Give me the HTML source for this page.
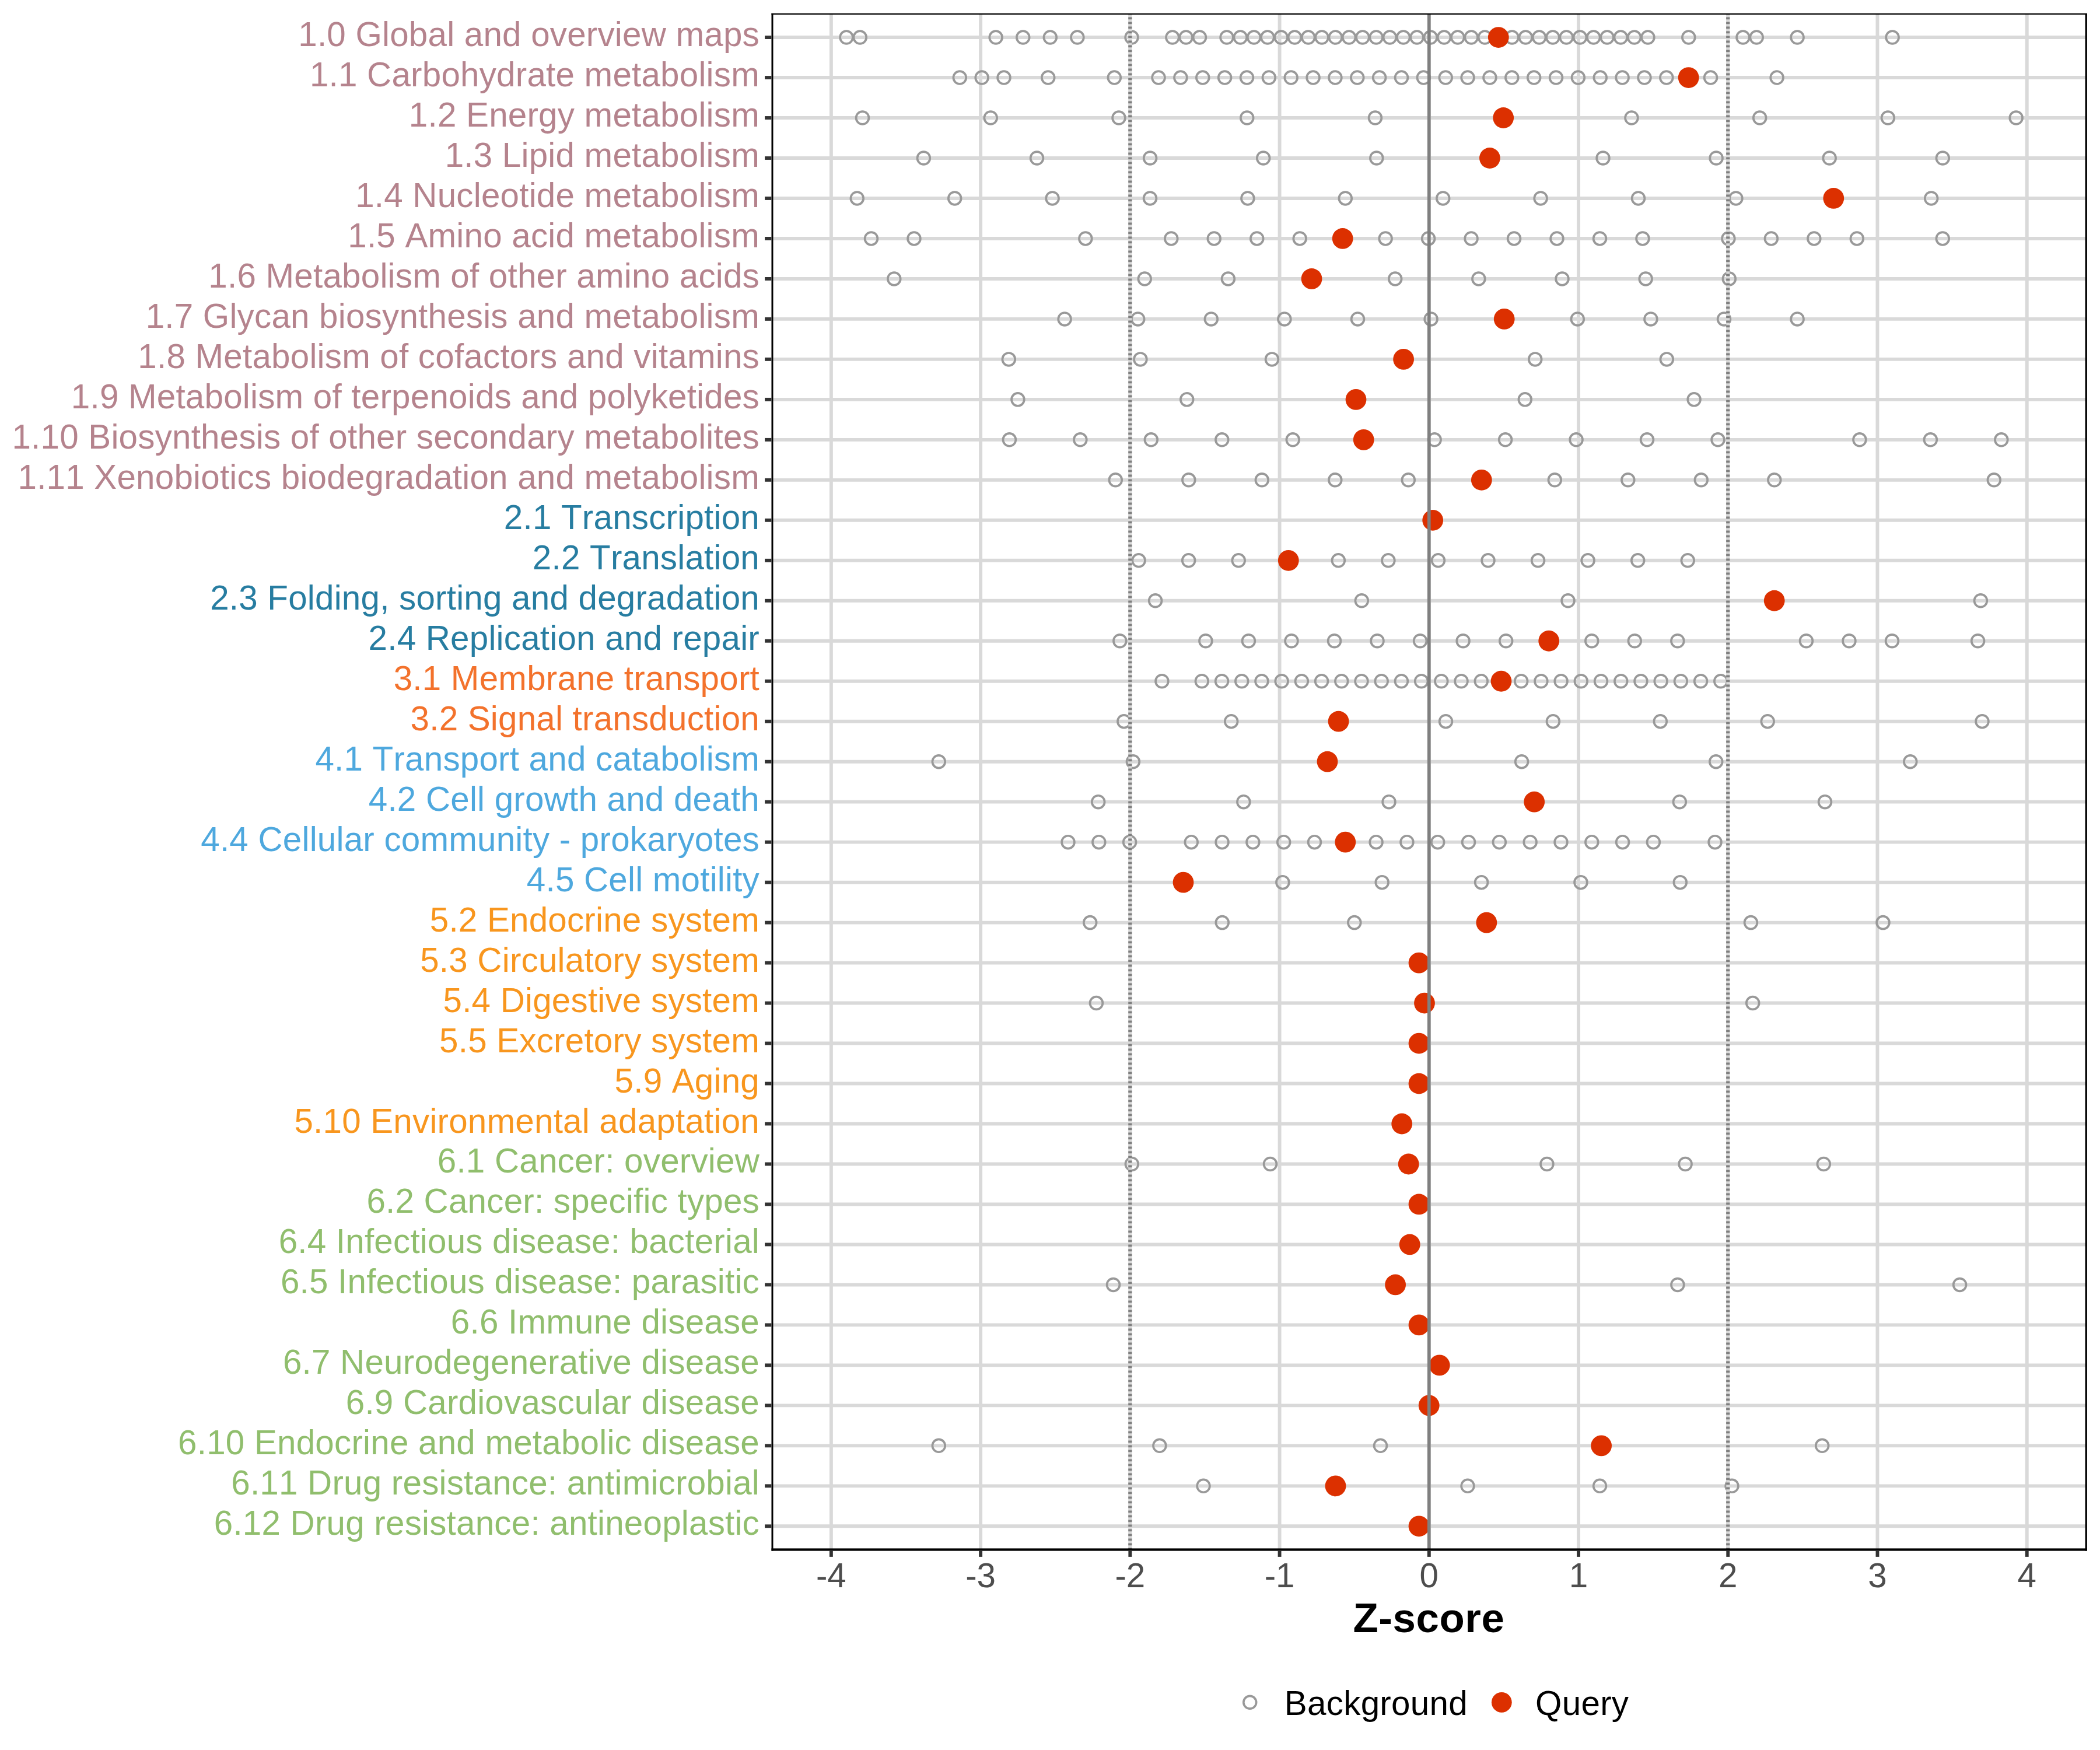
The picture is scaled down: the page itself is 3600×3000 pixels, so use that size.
<!DOCTYPE html>
<html><head><meta charset="utf-8"><title>Z-score plot</title>
<style>
html,body{margin:0;padding:0;background:#fff;overflow:hidden;width:3600px;height:3000px;}
svg{display:block;}
text{font-family:"Liberation Sans",Arial,Helvetica,sans-serif;font-kerning:none;font-feature-settings:"kern" 0,"liga" 0;}
</style></head><body>
<svg width="3600" height="3000" viewBox="0 0 3600 3000">
<rect x="0" y="0" width="3600" height="3000" fill="#ffffff"/>
<g stroke="#D9D9D9" stroke-width="5.9" fill="none">
<line x1="1324" y1="64.05" x2="3576.3" y2="64.05"/><line x1="1324" y1="133.03" x2="3576.3" y2="133.03"/><line x1="1324" y1="202.01" x2="3576.3" y2="202.01"/><line x1="1324" y1="270.99" x2="3576.3" y2="270.99"/><line x1="1324" y1="339.97" x2="3576.3" y2="339.97"/><line x1="1324" y1="408.95" x2="3576.3" y2="408.95"/><line x1="1324" y1="477.93" x2="3576.3" y2="477.93"/><line x1="1324" y1="546.91" x2="3576.3" y2="546.91"/><line x1="1324" y1="615.89" x2="3576.3" y2="615.89"/><line x1="1324" y1="684.87" x2="3576.3" y2="684.87"/><line x1="1324" y1="753.85" x2="3576.3" y2="753.85"/><line x1="1324" y1="822.83" x2="3576.3" y2="822.83"/><line x1="1324" y1="891.81" x2="3576.3" y2="891.81"/><line x1="1324" y1="960.79" x2="3576.3" y2="960.79"/><line x1="1324" y1="1029.77" x2="3576.3" y2="1029.77"/><line x1="1324" y1="1098.75" x2="3576.3" y2="1098.75"/><line x1="1324" y1="1167.73" x2="3576.3" y2="1167.73"/><line x1="1324" y1="1236.71" x2="3576.3" y2="1236.71"/><line x1="1324" y1="1305.69" x2="3576.3" y2="1305.69"/><line x1="1324" y1="1374.67" x2="3576.3" y2="1374.67"/><line x1="1324" y1="1443.65" x2="3576.3" y2="1443.65"/><line x1="1324" y1="1512.63" x2="3576.3" y2="1512.63"/><line x1="1324" y1="1581.61" x2="3576.3" y2="1581.61"/><line x1="1324" y1="1650.59" x2="3576.3" y2="1650.59"/><line x1="1324" y1="1719.57" x2="3576.3" y2="1719.57"/><line x1="1324" y1="1788.55" x2="3576.3" y2="1788.55"/><line x1="1324" y1="1857.53" x2="3576.3" y2="1857.53"/><line x1="1324" y1="1926.51" x2="3576.3" y2="1926.51"/><line x1="1324" y1="1995.49" x2="3576.3" y2="1995.49"/><line x1="1324" y1="2064.47" x2="3576.3" y2="2064.47"/><line x1="1324" y1="2133.45" x2="3576.3" y2="2133.45"/><line x1="1324" y1="2202.43" x2="3576.3" y2="2202.43"/><line x1="1324" y1="2271.41" x2="3576.3" y2="2271.41"/><line x1="1324" y1="2340.39" x2="3576.3" y2="2340.39"/><line x1="1324" y1="2409.37" x2="3576.3" y2="2409.37"/><line x1="1324" y1="2478.35" x2="3576.3" y2="2478.35"/><line x1="1324" y1="2547.33" x2="3576.3" y2="2547.33"/><line x1="1324" y1="2616.31" x2="3576.3" y2="2616.31"/>
<line x1="1424.88" y1="24" x2="1424.88" y2="2656.5"/><line x1="1681.11" y1="24" x2="1681.11" y2="2656.5"/><line x1="1937.34" y1="24" x2="1937.34" y2="2656.5"/><line x1="2193.57" y1="24" x2="2193.57" y2="2656.5"/><line x1="2449.8" y1="24" x2="2449.8" y2="2656.5"/><line x1="2706.03" y1="24" x2="2706.03" y2="2656.5"/><line x1="2962.26" y1="24" x2="2962.26" y2="2656.5"/><line x1="3218.49" y1="24" x2="3218.49" y2="2656.5"/><line x1="3474.72" y1="24" x2="3474.72" y2="2656.5"/>
</g>
<g fill="none" stroke="#999999" stroke-width="3.7">
<circle cx="1451" cy="64.05" r="10.9"/><circle cx="1474.29" cy="64.05" r="10.9"/><circle cx="1707.16" cy="64.05" r="10.9"/><circle cx="1753.73" cy="64.05" r="10.9"/><circle cx="1800.31" cy="64.05" r="10.9"/><circle cx="1846.88" cy="64.05" r="10.9"/><circle cx="1940.03" cy="64.05" r="10.9"/><circle cx="2009.89" cy="64.05" r="10.9"/><circle cx="2033.17" cy="64.05" r="10.9"/><circle cx="2056.46" cy="64.05" r="10.9"/><circle cx="2103.04" cy="64.05" r="10.9"/><circle cx="2126.32" cy="64.05" r="10.9"/><circle cx="2149.61" cy="64.05" r="10.9"/><circle cx="2172.9" cy="64.05" r="10.9"/><circle cx="2196.18" cy="64.05" r="10.9"/><circle cx="2219.47" cy="64.05" r="10.9"/><circle cx="2242.76" cy="64.05" r="10.9"/><circle cx="2266.05" cy="64.05" r="10.9"/><circle cx="2289.33" cy="64.05" r="10.9"/><circle cx="2312.62" cy="64.05" r="10.9"/><circle cx="2335.91" cy="64.05" r="10.9"/><circle cx="2359.19" cy="64.05" r="10.9"/><circle cx="2382.48" cy="64.05" r="10.9"/><circle cx="2405.77" cy="64.05" r="10.9"/><circle cx="2429.05" cy="64.05" r="10.9"/><circle cx="2452.34" cy="64.05" r="10.9"/><circle cx="2475.63" cy="64.05" r="10.9"/><circle cx="2498.91" cy="64.05" r="10.9"/><circle cx="2522.2" cy="64.05" r="10.9"/><circle cx="2545.49" cy="64.05" r="10.9"/><circle cx="2568.78" cy="64.05" r="10.9"/><circle cx="2592.06" cy="64.05" r="10.9"/><circle cx="2615.35" cy="64.05" r="10.9"/><circle cx="2638.64" cy="64.05" r="10.9"/><circle cx="2661.92" cy="64.05" r="10.9"/><circle cx="2685.21" cy="64.05" r="10.9"/><circle cx="2708.5" cy="64.05" r="10.9"/><circle cx="2731.78" cy="64.05" r="10.9"/><circle cx="2755.07" cy="64.05" r="10.9"/><circle cx="2778.36" cy="64.05" r="10.9"/><circle cx="2801.65" cy="64.05" r="10.9"/><circle cx="2824.93" cy="64.05" r="10.9"/><circle cx="2894.79" cy="64.05" r="10.9"/><circle cx="2987.94" cy="64.05" r="10.9"/><circle cx="3011.23" cy="64.05" r="10.9"/><circle cx="3081.09" cy="64.05" r="10.9"/><circle cx="3244.1" cy="64.05" r="10.9"/>
<circle cx="1645.3" cy="133.03" r="10.9"/><circle cx="1683.16" cy="133.03" r="10.9"/><circle cx="1721.02" cy="133.03" r="10.9"/><circle cx="1796.74" cy="133.03" r="10.9"/><circle cx="1910.32" cy="133.03" r="10.9"/><circle cx="1986.04" cy="133.03" r="10.9"/><circle cx="2023.9" cy="133.03" r="10.9"/><circle cx="2061.76" cy="133.03" r="10.9"/><circle cx="2099.62" cy="133.03" r="10.9"/><circle cx="2137.48" cy="133.03" r="10.9"/><circle cx="2175.34" cy="133.03" r="10.9"/><circle cx="2213.2" cy="133.03" r="10.9"/><circle cx="2251.06" cy="133.03" r="10.9"/><circle cx="2288.92" cy="133.03" r="10.9"/><circle cx="2326.78" cy="133.03" r="10.9"/><circle cx="2364.64" cy="133.03" r="10.9"/><circle cx="2402.5" cy="133.03" r="10.9"/><circle cx="2440.36" cy="133.03" r="10.9"/><circle cx="2478.22" cy="133.03" r="10.9"/><circle cx="2516.08" cy="133.03" r="10.9"/><circle cx="2553.94" cy="133.03" r="10.9"/><circle cx="2591.8" cy="133.03" r="10.9"/><circle cx="2629.66" cy="133.03" r="10.9"/><circle cx="2667.52" cy="133.03" r="10.9"/><circle cx="2705.38" cy="133.03" r="10.9"/><circle cx="2743.24" cy="133.03" r="10.9"/><circle cx="2781.1" cy="133.03" r="10.9"/><circle cx="2818.96" cy="133.03" r="10.9"/><circle cx="2856.82" cy="133.03" r="10.9"/><circle cx="2894.68" cy="133.03" r="10.9"/><circle cx="2932.54" cy="133.03" r="10.9"/><circle cx="3046.12" cy="133.03" r="10.9"/>
<circle cx="1478.5" cy="202.01" r="10.9"/><circle cx="1698.24" cy="202.01" r="10.9"/><circle cx="1917.98" cy="202.01" r="10.9"/><circle cx="2137.72" cy="202.01" r="10.9"/><circle cx="2357.46" cy="202.01" r="10.9"/><circle cx="2796.94" cy="202.01" r="10.9"/><circle cx="3016.68" cy="202.01" r="10.9"/><circle cx="3236.42" cy="202.01" r="10.9"/><circle cx="3456.16" cy="202.01" r="10.9"/>
<circle cx="1583.4" cy="270.99" r="10.9"/><circle cx="1777.5" cy="270.99" r="10.9"/><circle cx="1971.6" cy="270.99" r="10.9"/><circle cx="2165.7" cy="270.99" r="10.9"/><circle cx="2359.8" cy="270.99" r="10.9"/><circle cx="2748" cy="270.99" r="10.9"/><circle cx="2942.1" cy="270.99" r="10.9"/><circle cx="3136.2" cy="270.99" r="10.9"/><circle cx="3330.3" cy="270.99" r="10.9"/>
<circle cx="1469.3" cy="339.97" r="10.9"/><circle cx="1636.7" cy="339.97" r="10.9"/><circle cx="1804.1" cy="339.97" r="10.9"/><circle cx="1971.5" cy="339.97" r="10.9"/><circle cx="2138.9" cy="339.97" r="10.9"/><circle cx="2306.3" cy="339.97" r="10.9"/><circle cx="2473.7" cy="339.97" r="10.9"/><circle cx="2641.1" cy="339.97" r="10.9"/><circle cx="2808.5" cy="339.97" r="10.9"/><circle cx="2975.9" cy="339.97" r="10.9"/><circle cx="3310.7" cy="339.97" r="10.9"/>
<circle cx="1493.5" cy="408.95" r="10.9"/><circle cx="1566.97" cy="408.95" r="10.9"/><circle cx="1860.85" cy="408.95" r="10.9"/><circle cx="2007.79" cy="408.95" r="10.9"/><circle cx="2081.26" cy="408.95" r="10.9"/><circle cx="2154.73" cy="408.95" r="10.9"/><circle cx="2228.2" cy="408.95" r="10.9"/><circle cx="2375.14" cy="408.95" r="10.9"/><circle cx="2448.61" cy="408.95" r="10.9"/><circle cx="2522.08" cy="408.95" r="10.9"/><circle cx="2595.55" cy="408.95" r="10.9"/><circle cx="2669.02" cy="408.95" r="10.9"/><circle cx="2742.49" cy="408.95" r="10.9"/><circle cx="2815.96" cy="408.95" r="10.9"/><circle cx="2962.9" cy="408.95" r="10.9"/><circle cx="3036.37" cy="408.95" r="10.9"/><circle cx="3109.84" cy="408.95" r="10.9"/><circle cx="3183.31" cy="408.95" r="10.9"/><circle cx="3330.25" cy="408.95" r="10.9"/>
<circle cx="1532.8" cy="477.93" r="10.9"/><circle cx="1962.25" cy="477.93" r="10.9"/><circle cx="2105.4" cy="477.93" r="10.9"/><circle cx="2391.7" cy="477.93" r="10.9"/><circle cx="2534.85" cy="477.93" r="10.9"/><circle cx="2678" cy="477.93" r="10.9"/><circle cx="2821.15" cy="477.93" r="10.9"/><circle cx="2964.3" cy="477.93" r="10.9"/>
<circle cx="1825.1" cy="546.91" r="10.9"/><circle cx="1950.7" cy="546.91" r="10.9"/><circle cx="2076.3" cy="546.91" r="10.9"/><circle cx="2201.9" cy="546.91" r="10.9"/><circle cx="2327.5" cy="546.91" r="10.9"/><circle cx="2453.1" cy="546.91" r="10.9"/><circle cx="2704.3" cy="546.91" r="10.9"/><circle cx="2829.9" cy="546.91" r="10.9"/><circle cx="2955.5" cy="546.91" r="10.9"/><circle cx="3081.1" cy="546.91" r="10.9"/>
<circle cx="1729.3" cy="615.89" r="10.9"/><circle cx="1954.9" cy="615.89" r="10.9"/><circle cx="2180.5" cy="615.89" r="10.9"/><circle cx="2631.7" cy="615.89" r="10.9"/><circle cx="2857.3" cy="615.89" r="10.9"/>
<circle cx="1744.9" cy="684.87" r="10.9"/><circle cx="2034.7" cy="684.87" r="10.9"/><circle cx="2614.3" cy="684.87" r="10.9"/><circle cx="2904.1" cy="684.87" r="10.9"/>
<circle cx="1730.4" cy="753.85" r="10.9"/><circle cx="1851.86" cy="753.85" r="10.9"/><circle cx="1973.32" cy="753.85" r="10.9"/><circle cx="2094.78" cy="753.85" r="10.9"/><circle cx="2216.24" cy="753.85" r="10.9"/><circle cx="2459.16" cy="753.85" r="10.9"/><circle cx="2580.62" cy="753.85" r="10.9"/><circle cx="2702.08" cy="753.85" r="10.9"/><circle cx="2823.54" cy="753.85" r="10.9"/><circle cx="2945" cy="753.85" r="10.9"/><circle cx="3187.92" cy="753.85" r="10.9"/><circle cx="3309.38" cy="753.85" r="10.9"/><circle cx="3430.84" cy="753.85" r="10.9"/>
<circle cx="1912.3" cy="822.83" r="10.9"/><circle cx="2037.8" cy="822.83" r="10.9"/><circle cx="2163.3" cy="822.83" r="10.9"/><circle cx="2288.8" cy="822.83" r="10.9"/><circle cx="2414.3" cy="822.83" r="10.9"/><circle cx="2665.3" cy="822.83" r="10.9"/><circle cx="2790.8" cy="822.83" r="10.9"/><circle cx="2916.3" cy="822.83" r="10.9"/><circle cx="3041.8" cy="822.83" r="10.9"/><circle cx="3418.3" cy="822.83" r="10.9"/>

<circle cx="1952.1" cy="960.79" r="10.9"/><circle cx="2037.66" cy="960.79" r="10.9"/><circle cx="2123.22" cy="960.79" r="10.9"/><circle cx="2294.34" cy="960.79" r="10.9"/><circle cx="2379.9" cy="960.79" r="10.9"/><circle cx="2465.46" cy="960.79" r="10.9"/><circle cx="2551.02" cy="960.79" r="10.9"/><circle cx="2636.58" cy="960.79" r="10.9"/><circle cx="2722.14" cy="960.79" r="10.9"/><circle cx="2807.7" cy="960.79" r="10.9"/><circle cx="2893.26" cy="960.79" r="10.9"/>
<circle cx="1980.6" cy="1029.77" r="10.9"/><circle cx="2334.3" cy="1029.77" r="10.9"/><circle cx="2688" cy="1029.77" r="10.9"/><circle cx="3395.4" cy="1029.77" r="10.9"/>
<circle cx="1919.8" cy="1098.75" r="10.9"/><circle cx="2066.88" cy="1098.75" r="10.9"/><circle cx="2140.42" cy="1098.75" r="10.9"/><circle cx="2213.96" cy="1098.75" r="10.9"/><circle cx="2287.5" cy="1098.75" r="10.9"/><circle cx="2361.04" cy="1098.75" r="10.9"/><circle cx="2434.58" cy="1098.75" r="10.9"/><circle cx="2508.12" cy="1098.75" r="10.9"/><circle cx="2581.66" cy="1098.75" r="10.9"/><circle cx="2728.74" cy="1098.75" r="10.9"/><circle cx="2802.28" cy="1098.75" r="10.9"/><circle cx="2875.82" cy="1098.75" r="10.9"/><circle cx="3096.44" cy="1098.75" r="10.9"/><circle cx="3169.98" cy="1098.75" r="10.9"/><circle cx="3243.52" cy="1098.75" r="10.9"/><circle cx="3390.6" cy="1098.75" r="10.9"/>
<circle cx="1991.9" cy="1167.73" r="10.9"/><circle cx="2060.32" cy="1167.73" r="10.9"/><circle cx="2094.53" cy="1167.73" r="10.9"/><circle cx="2128.74" cy="1167.73" r="10.9"/><circle cx="2162.95" cy="1167.73" r="10.9"/><circle cx="2197.16" cy="1167.73" r="10.9"/><circle cx="2231.37" cy="1167.73" r="10.9"/><circle cx="2265.58" cy="1167.73" r="10.9"/><circle cx="2299.79" cy="1167.73" r="10.9"/><circle cx="2334" cy="1167.73" r="10.9"/><circle cx="2368.21" cy="1167.73" r="10.9"/><circle cx="2402.42" cy="1167.73" r="10.9"/><circle cx="2436.63" cy="1167.73" r="10.9"/><circle cx="2470.84" cy="1167.73" r="10.9"/><circle cx="2505.05" cy="1167.73" r="10.9"/><circle cx="2539.26" cy="1167.73" r="10.9"/><circle cx="2573.47" cy="1167.73" r="10.9"/><circle cx="2607.68" cy="1167.73" r="10.9"/><circle cx="2641.89" cy="1167.73" r="10.9"/><circle cx="2676.1" cy="1167.73" r="10.9"/><circle cx="2710.31" cy="1167.73" r="10.9"/><circle cx="2744.52" cy="1167.73" r="10.9"/><circle cx="2778.73" cy="1167.73" r="10.9"/><circle cx="2812.94" cy="1167.73" r="10.9"/><circle cx="2847.15" cy="1167.73" r="10.9"/><circle cx="2881.36" cy="1167.73" r="10.9"/><circle cx="2915.57" cy="1167.73" r="10.9"/><circle cx="2949.78" cy="1167.73" r="10.9"/>
<circle cx="1926.8" cy="1236.71" r="10.9"/><circle cx="2110.7" cy="1236.71" r="10.9"/><circle cx="2478.5" cy="1236.71" r="10.9"/><circle cx="2662.4" cy="1236.71" r="10.9"/><circle cx="2846.3" cy="1236.71" r="10.9"/><circle cx="3030.2" cy="1236.71" r="10.9"/><circle cx="3398" cy="1236.71" r="10.9"/>
<circle cx="1609.3" cy="1305.69" r="10.9"/><circle cx="1942.4" cy="1305.69" r="10.9"/><circle cx="2608.6" cy="1305.69" r="10.9"/><circle cx="2941.7" cy="1305.69" r="10.9"/><circle cx="3274.8" cy="1305.69" r="10.9"/>
<circle cx="1882.7" cy="1374.67" r="10.9"/><circle cx="2131.86" cy="1374.67" r="10.9"/><circle cx="2381.02" cy="1374.67" r="10.9"/><circle cx="2879.34" cy="1374.67" r="10.9"/><circle cx="3128.5" cy="1374.67" r="10.9"/>
<circle cx="1831" cy="1443.65" r="10.9"/><circle cx="1883.81" cy="1443.65" r="10.9"/><circle cx="1936.62" cy="1443.65" r="10.9"/><circle cx="2042.24" cy="1443.65" r="10.9"/><circle cx="2095.05" cy="1443.65" r="10.9"/><circle cx="2147.86" cy="1443.65" r="10.9"/><circle cx="2200.67" cy="1443.65" r="10.9"/><circle cx="2253.48" cy="1443.65" r="10.9"/><circle cx="2359.1" cy="1443.65" r="10.9"/><circle cx="2411.91" cy="1443.65" r="10.9"/><circle cx="2464.72" cy="1443.65" r="10.9"/><circle cx="2517.53" cy="1443.65" r="10.9"/><circle cx="2570.34" cy="1443.65" r="10.9"/><circle cx="2623.15" cy="1443.65" r="10.9"/><circle cx="2675.96" cy="1443.65" r="10.9"/><circle cx="2728.77" cy="1443.65" r="10.9"/><circle cx="2781.58" cy="1443.65" r="10.9"/><circle cx="2834.39" cy="1443.65" r="10.9"/><circle cx="2940.01" cy="1443.65" r="10.9"/>
<circle cx="2198.86" cy="1512.63" r="10.9"/><circle cx="2369.22" cy="1512.63" r="10.9"/><circle cx="2539.58" cy="1512.63" r="10.9"/><circle cx="2709.94" cy="1512.63" r="10.9"/><circle cx="2880.3" cy="1512.63" r="10.9"/>
<circle cx="1868.7" cy="1581.61" r="10.9"/><circle cx="2095.25" cy="1581.61" r="10.9"/><circle cx="2321.8" cy="1581.61" r="10.9"/><circle cx="3001.45" cy="1581.61" r="10.9"/><circle cx="3228" cy="1581.61" r="10.9"/>

<circle cx="1879.4" cy="1719.57" r="10.9"/><circle cx="3004.7" cy="1719.57" r="10.9"/>



<circle cx="1940.3" cy="1995.49" r="10.9"/><circle cx="2177.5" cy="1995.49" r="10.9"/><circle cx="2651.9" cy="1995.49" r="10.9"/><circle cx="2889.1" cy="1995.49" r="10.9"/><circle cx="3126.3" cy="1995.49" r="10.9"/>


<circle cx="1908.5" cy="2202.43" r="10.9"/><circle cx="2875.9" cy="2202.43" r="10.9"/><circle cx="3359.6" cy="2202.43" r="10.9"/>



<circle cx="1609.3" cy="2478.35" r="10.9"/><circle cx="1987.9" cy="2478.35" r="10.9"/><circle cx="2366.5" cy="2478.35" r="10.9"/><circle cx="3123.7" cy="2478.35" r="10.9"/>
<circle cx="2063" cy="2547.33" r="10.9"/><circle cx="2516" cy="2547.33" r="10.9"/><circle cx="2742.5" cy="2547.33" r="10.9"/><circle cx="2969" cy="2547.33" r="10.9"/>

</g>
<g fill="#DC3000">
<circle cx="2568.78" cy="64.05" r="17.9"/><circle cx="2894.68" cy="133.03" r="17.9"/><circle cx="2577.2" cy="202.01" r="17.9"/><circle cx="2553.9" cy="270.99" r="17.9"/><circle cx="3143.3" cy="339.97" r="17.9"/><circle cx="2301.67" cy="408.95" r="17.9"/><circle cx="2248.55" cy="477.93" r="17.9"/><circle cx="2578.7" cy="546.91" r="17.9"/><circle cx="2406.1" cy="615.89" r="17.9"/><circle cx="2324.5" cy="684.87" r="17.9"/><circle cx="2337.7" cy="753.85" r="17.9"/><circle cx="2539.8" cy="822.83" r="17.9"/><circle cx="2456.2" cy="891.81" r="17.9"/><circle cx="2208.78" cy="960.79" r="17.9"/><circle cx="3041.7" cy="1029.77" r="17.9"/><circle cx="2655.2" cy="1098.75" r="17.9"/><circle cx="2573.47" cy="1167.73" r="17.9"/><circle cx="2294.6" cy="1236.71" r="17.9"/><circle cx="2275.5" cy="1305.69" r="17.9"/><circle cx="2630.18" cy="1374.67" r="17.9"/><circle cx="2306.29" cy="1443.65" r="17.9"/><circle cx="2028.5" cy="1512.63" r="17.9"/><circle cx="2548.35" cy="1581.61" r="17.9"/><circle cx="2432.5" cy="1650.59" r="17.9"/><circle cx="2442" cy="1719.57" r="17.9"/><circle cx="2432.5" cy="1788.55" r="17.9"/><circle cx="2432.5" cy="1857.53" r="17.9"/><circle cx="2403.2" cy="1926.51" r="17.9"/><circle cx="2414.7" cy="1995.49" r="17.9"/><circle cx="2432.5" cy="2064.47" r="17.9"/><circle cx="2416.7" cy="2133.45" r="17.9"/><circle cx="2392.1" cy="2202.43" r="17.9"/><circle cx="2432.5" cy="2271.41" r="17.9"/><circle cx="2467.7" cy="2340.39" r="17.9"/><circle cx="2449.7" cy="2409.37" r="17.9"/><circle cx="2745.1" cy="2478.35" r="17.9"/><circle cx="2289.5" cy="2547.33" r="17.9"/><circle cx="2432.5" cy="2616.31" r="17.9"/>
</g>
<line x1="1937.34" y1="24" x2="1937.34" y2="2656.5" stroke="#D9D9D9" stroke-width="5.9"/>
<line x1="1937.34" y1="2656.5" x2="1937.34" y2="24" stroke="#7F7F7F" stroke-width="6.2" stroke-dasharray="3.7 4.3" stroke-dashoffset="0.8"/>
<line x1="2962.26" y1="24" x2="2962.26" y2="2656.5" stroke="#D9D9D9" stroke-width="5.9"/>
<line x1="2962.26" y1="2656.5" x2="2962.26" y2="24" stroke="#7F7F7F" stroke-width="6.2" stroke-dasharray="3.7 4.3" stroke-dashoffset="0.8"/>
<line x1="2449.8" y1="24" x2="2449.8" y2="2656.5" stroke="#7F7F7F" stroke-width="5.6"/>
<rect x="1322.5" y="22.9" width="3" height="2635.7" fill="#000"/>
<rect x="3574.6" y="22.9" width="3.3" height="2635.7" fill="#000"/>
<rect x="1322.5" y="22.9" width="2255.4" height="2.2" fill="#000"/>
<rect x="1322.5" y="2654.4" width="2255.4" height="4.2" fill="#000"/>
<g stroke="#333333" stroke-width="5.9">
<line x1="1311.1" y1="64.05" x2="1322.5" y2="64.05"/><line x1="1311.1" y1="133.03" x2="1322.5" y2="133.03"/><line x1="1311.1" y1="202.01" x2="1322.5" y2="202.01"/><line x1="1311.1" y1="270.99" x2="1322.5" y2="270.99"/><line x1="1311.1" y1="339.97" x2="1322.5" y2="339.97"/><line x1="1311.1" y1="408.95" x2="1322.5" y2="408.95"/><line x1="1311.1" y1="477.93" x2="1322.5" y2="477.93"/><line x1="1311.1" y1="546.91" x2="1322.5" y2="546.91"/><line x1="1311.1" y1="615.89" x2="1322.5" y2="615.89"/><line x1="1311.1" y1="684.87" x2="1322.5" y2="684.87"/><line x1="1311.1" y1="753.85" x2="1322.5" y2="753.85"/><line x1="1311.1" y1="822.83" x2="1322.5" y2="822.83"/><line x1="1311.1" y1="891.81" x2="1322.5" y2="891.81"/><line x1="1311.1" y1="960.79" x2="1322.5" y2="960.79"/><line x1="1311.1" y1="1029.77" x2="1322.5" y2="1029.77"/><line x1="1311.1" y1="1098.75" x2="1322.5" y2="1098.75"/><line x1="1311.1" y1="1167.73" x2="1322.5" y2="1167.73"/><line x1="1311.1" y1="1236.71" x2="1322.5" y2="1236.71"/><line x1="1311.1" y1="1305.69" x2="1322.5" y2="1305.69"/><line x1="1311.1" y1="1374.67" x2="1322.5" y2="1374.67"/><line x1="1311.1" y1="1443.65" x2="1322.5" y2="1443.65"/><line x1="1311.1" y1="1512.63" x2="1322.5" y2="1512.63"/><line x1="1311.1" y1="1581.61" x2="1322.5" y2="1581.61"/><line x1="1311.1" y1="1650.59" x2="1322.5" y2="1650.59"/><line x1="1311.1" y1="1719.57" x2="1322.5" y2="1719.57"/><line x1="1311.1" y1="1788.55" x2="1322.5" y2="1788.55"/><line x1="1311.1" y1="1857.53" x2="1322.5" y2="1857.53"/><line x1="1311.1" y1="1926.51" x2="1322.5" y2="1926.51"/><line x1="1311.1" y1="1995.49" x2="1322.5" y2="1995.49"/><line x1="1311.1" y1="2064.47" x2="1322.5" y2="2064.47"/><line x1="1311.1" y1="2133.45" x2="1322.5" y2="2133.45"/><line x1="1311.1" y1="2202.43" x2="1322.5" y2="2202.43"/><line x1="1311.1" y1="2271.41" x2="1322.5" y2="2271.41"/><line x1="1311.1" y1="2340.39" x2="1322.5" y2="2340.39"/><line x1="1311.1" y1="2409.37" x2="1322.5" y2="2409.37"/><line x1="1311.1" y1="2478.35" x2="1322.5" y2="2478.35"/><line x1="1311.1" y1="2547.33" x2="1322.5" y2="2547.33"/><line x1="1311.1" y1="2616.31" x2="1322.5" y2="2616.31"/>
<line x1="1424.88" y1="2658.6" x2="1424.88" y2="2668.9"/><line x1="1681.11" y1="2658.6" x2="1681.11" y2="2668.9"/><line x1="1937.34" y1="2658.6" x2="1937.34" y2="2668.9"/><line x1="2193.57" y1="2658.6" x2="2193.57" y2="2668.9"/><line x1="2449.8" y1="2658.6" x2="2449.8" y2="2668.9"/><line x1="2706.03" y1="2658.6" x2="2706.03" y2="2668.9"/><line x1="2962.26" y1="2658.6" x2="2962.26" y2="2668.9"/><line x1="3218.49" y1="2658.6" x2="3218.49" y2="2668.9"/><line x1="3474.72" y1="2658.6" x2="3474.72" y2="2668.9"/>
</g>
<g font-size="58.33" text-anchor="end" letter-spacing="0.22">
<text x="1302" y="79.05" fill="#B5838D">1.0 Global and overview maps</text>
<text x="1302" y="148.03" fill="#B5838D">1.1 Carbohydrate metabolism</text>
<text x="1302" y="217.01" fill="#B5838D">1.2 Energy metabolism</text>
<text x="1302" y="285.99" fill="#B5838D">1.3 Lipid metabolism</text>
<text x="1302" y="354.97" fill="#B5838D">1.4 Nucleotide metabolism</text>
<text x="1302" y="423.95" fill="#B5838D">1.5 Amino acid metabolism</text>
<text x="1302" y="492.93" fill="#B5838D">1.6 Metabolism of other amino acids</text>
<text x="1302" y="561.91" fill="#B5838D">1.7 Glycan biosynthesis and metabolism</text>
<text x="1302" y="630.89" fill="#B5838D">1.8 Metabolism of cofactors and vitamins</text>
<text x="1302" y="699.87" fill="#B5838D">1.9 Metabolism of terpenoids and polyketides</text>
<text x="1302" y="768.85" fill="#B5838D">1.10 Biosynthesis of other secondary metabolites</text>
<text x="1302" y="837.83" fill="#B5838D">1.11 Xenobiotics biodegradation and metabolism</text>
<text x="1302" y="906.81" fill="#277DA1">2.1 Transcription</text>
<text x="1302" y="975.79" fill="#277DA1">2.2 Translation</text>
<text x="1302" y="1044.77" fill="#277DA1">2.3 Folding, sorting and degradation</text>
<text x="1302" y="1113.75" fill="#277DA1">2.4 Replication and repair</text>
<text x="1302" y="1182.73" fill="#F3722C">3.1 Membrane transport</text>
<text x="1302" y="1251.71" fill="#F3722C">3.2 Signal transduction</text>
<text x="1302" y="1320.69" fill="#4EA8DE">4.1 Transport and catabolism</text>
<text x="1302" y="1389.67" fill="#4EA8DE">4.2 Cell growth and death</text>
<text x="1302" y="1458.65" fill="#4EA8DE">4.4 Cellular community - prokaryotes</text>
<text x="1302" y="1527.63" fill="#4EA8DE">4.5 Cell motility</text>
<text x="1302" y="1596.61" fill="#F8961E">5.2 Endocrine system</text>
<text x="1302" y="1665.59" fill="#F8961E">5.3 Circulatory system</text>
<text x="1302" y="1734.57" fill="#F8961E">5.4 Digestive system</text>
<text x="1302" y="1803.55" fill="#F8961E">5.5 Excretory system</text>
<text x="1302" y="1872.53" fill="#F8961E">5.9 Aging</text>
<text x="1302" y="1941.51" fill="#F8961E">5.10 Environmental adaptation</text>
<text x="1302" y="2010.49" fill="#90BE6D">6.1 Cancer: overview</text>
<text x="1302" y="2079.47" fill="#90BE6D">6.2 Cancer: specific types</text>
<text x="1302" y="2148.45" fill="#90BE6D">6.4 Infectious disease: bacterial</text>
<text x="1302" y="2217.43" fill="#90BE6D">6.5 Infectious disease: parasitic</text>
<text x="1302" y="2286.41" fill="#90BE6D">6.6 Immune disease</text>
<text x="1302" y="2355.39" fill="#90BE6D">6.7 Neurodegenerative disease</text>
<text x="1302" y="2424.37" fill="#90BE6D">6.9 Cardiovascular disease</text>
<text x="1302" y="2493.35" fill="#90BE6D">6.10 Endocrine and metabolic disease</text>
<text x="1302" y="2562.33" fill="#90BE6D">6.11 Drug resistance: antimicrobial</text>
<text x="1302" y="2631.31" fill="#90BE6D">6.12 Drug resistance: antineoplastic</text>
</g>
<g font-size="58.33" text-anchor="middle" fill="#4D4D4D">
<text x="1424.88" y="2721">-4</text><text x="1681.11" y="2721">-3</text><text x="1937.34" y="2721">-2</text><text x="2193.57" y="2721">-1</text><text x="2449.8" y="2721">0</text><text x="2706.03" y="2721">1</text><text x="2962.26" y="2721">2</text><text x="3218.49" y="2721">3</text><text x="3474.72" y="2721">4</text>
</g>
<text x="2449.5" y="2797.5" font-size="70.83" font-weight="bold" text-anchor="middle" letter-spacing="0.6" fill="#000">Z-score</text>
<circle cx="2142.7" cy="2918.3" r="10.9" fill="none" stroke="#999999" stroke-width="3.7"/>
<text x="2201.8" y="2940" font-size="58.33" fill="#000" letter-spacing="0.29">Background</text>
<circle cx="2574.3" cy="2918.3" r="17.4" fill="#DC3000"/>
<text x="2632" y="2940" font-size="58.33" fill="#000" letter-spacing="0.3">Query</text>
</svg>
</body></html>
